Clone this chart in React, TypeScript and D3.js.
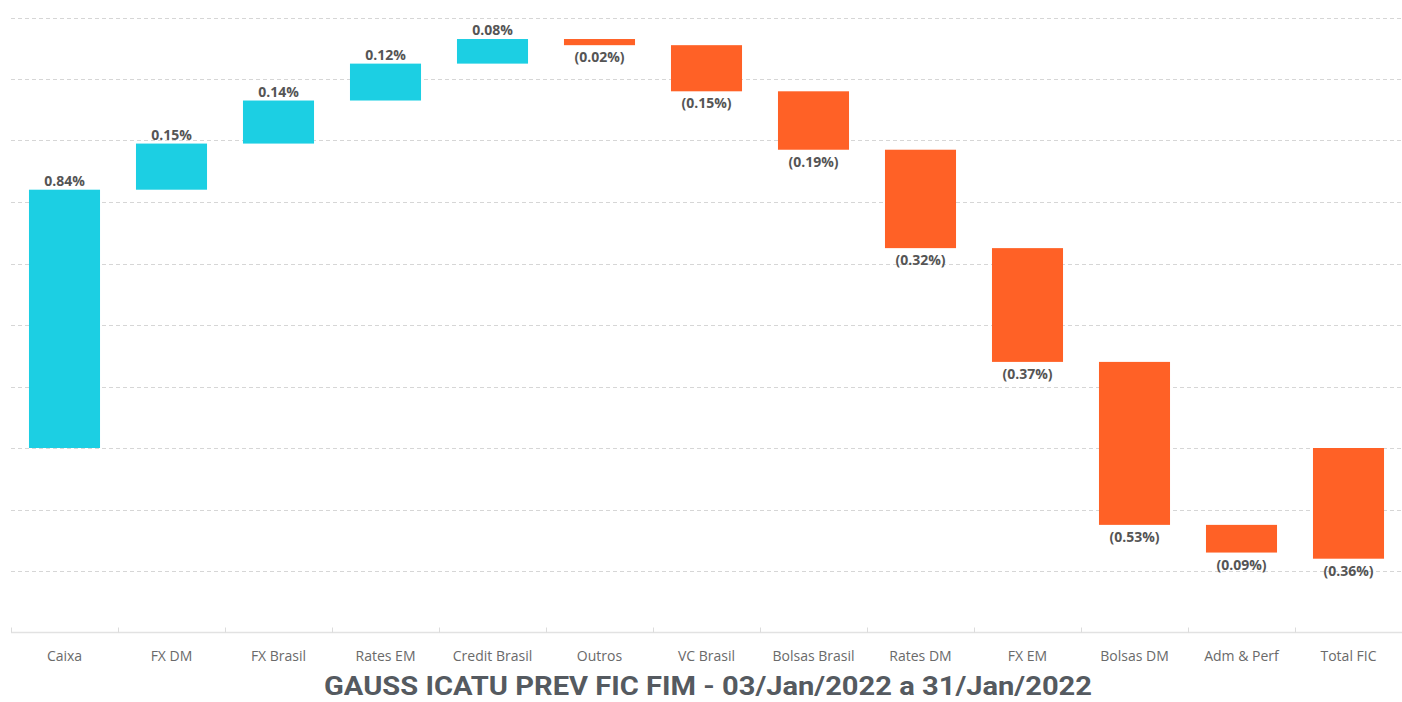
import { useRef, useEffect } from 'react';
import * as d3 from 'd3';

const CATEGORIES = ['Caixa', 'FX DM', 'FX Brasil', 'Rates EM', 'Credit Brasil', 'Outros', 'VC Brasil', 'Bolsas Brasil', 'Rates DM', 'FX EM', 'Bolsas DM', 'Adm & Perf', 'Total FIC'];
const VALUES = [0.84, 0.15, 0.14, 0.12, 0.08, -0.02, -0.15, -0.19, -0.32, -0.37, -0.53, -0.09, -0.36];
const IS_TOTAL = [false, false, false, false, false, false, false, false, false, false, false, false, true];
const Y_TICKS = [-0.4, -0.2, 0, 0.2, 0.4, 0.6, 0.8, 1.0, 1.2, 1.4];
const TITLE = 'GAUSS ICATU PREV FIC FIM - 03/Jan/2022 a 31/Jan/2022';

const UP = '#1ccfe3';
const DOWN = '#ff6126';

export default function App() {
  const svgRef = useRef<SVGSVGElement | null>(null);

  useEffect(() => {
    document.body.style.margin = '0';
    if (!svgRef.current) return;
    const W = 1402, H = 702;
    const svg = d3.select(svgRef.current);
    svg.selectAll('*').remove();
    svg.attr('width', W).attr('height', H);

    const x = d3.scaleBand<string>().domain(CATEGORIES).range([11, 1402]).paddingInner(0.336).paddingOuter(0.168);
    const y = d3.scaleLinear().domain([-0.6, 1.4]).range([632.5, 17.5]);

    // running totals for the waterfall
    let run = 0;
    const steps = VALUES.map((v, i) => {
      if (IS_TOTAL[i]) return { cat: CATEGORIES[i], v, start: 0, end: v };
      const s = { cat: CATEGORIES[i], v, start: run, end: run + v };
      run += v;
      return s;
    });

    // dashed gridlines
    svg.append('g').selectAll('line').data(Y_TICKS).enter().append('line')
      .attr('x1', 11).attr('x2', W)
      .attr('y1', d => Math.round(y(d)) + 0.5).attr('y2', d => Math.round(y(d)) + 0.5)
      .attr('stroke', '#d6d6d6').attr('stroke-width', 1).attr('stroke-dasharray', '4,3');

    // x axis
    const axisY = 632.5;
    svg.append('line').attr('x1', 11).attr('x2', W).attr('y1', axisY).attr('y2', axisY)
      .attr('stroke', '#e2e2e2').attr('stroke-width', 1.5);
    const edges = CATEGORIES.map(c => (x(c) as number) - x.step() * x.paddingInner() / 2);
    svg.append('g').selectAll('line').data(edges).enter().append('line')
      .attr('x1', d => Math.round(d) + 0.5).attr('x2', d => Math.round(d) + 0.5)
      .attr('y1', axisY - 5).attr('y2', axisY)
      .attr('stroke', '#dcdcdc').attr('stroke-width', 1);

    svg.append('g').selectAll('text').data(CATEGORIES).enter().append('text')
      .attr('x', d => (x(d) as number) + x.bandwidth() / 2)
      .attr('y', 661)
      .attr('text-anchor', 'middle')
      .attr('fill', '#6a6a6a')
      .style('font-family', '"Open Sans", sans-serif').style('font-size', '14px')
      .text(d => d);

    // bars
    svg.append('g').selectAll('rect').data(steps).enter().append('rect')
      .attr('x', d => x(d.cat) as number)
      .attr('width', x.bandwidth())
      .attr('y', d => y(Math.max(d.start, d.end)))
      .attr('height', d => Math.abs(y(d.start) - y(d.end)))
      .attr('fill', d => (d.v >= 0 ? UP : DOWN));

    // value labels
    const fmt = (v: number) => (v >= 0 ? `${v.toFixed(2)}%` : `(${Math.abs(v).toFixed(2)}%)`);
    svg.append('g').selectAll('text').data(steps).enter().append('text')
      .attr('x', d => (x(d.cat) as number) + x.bandwidth() / 2)
      .attr('y', d => (d.v >= 0 ? y(Math.max(d.start, d.end)) - 4 : y(Math.min(d.start, d.end)) + 17))
      .attr('text-anchor', 'middle')
      .attr('fill', '#555')
      .style('font-family', '"Open Sans", sans-serif').style('font-size', '14px').style('font-weight', '700')
      .text(d => fmt(d.v));

    // title
    svg.append('text')
      .attr('x', 708).attr('y', 695)
      .attr('text-anchor', 'middle')
      .attr('fill', '#555a60')
      .attr('textLength', 768).attr('lengthAdjust', 'spacingAndGlyphs')
      .style('font-family', 'Roboto, sans-serif').style('font-size', '25px').style('font-weight', '700')
      .text(TITLE);
  }, []);

  return <svg ref={svgRef} style={{ display: 'block' }} />;
}
